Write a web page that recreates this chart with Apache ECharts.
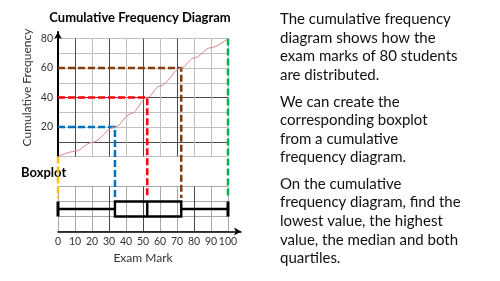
<!DOCTYPE html>
<html><head><meta charset="utf-8">
<script src="https://cdn.jsdelivr.net/npm/echarts@6/dist/echarts.min.js"></script>
<style>html,body{margin:0;padding:0;background:#fff}#c{width:500px;height:281px}</style>
</head><body><div id="c"></div>
<script>
// ---- data ----
const curveMarks    = [0, 10, 20, 33.5, 43, 52.5, 60, 72.5, 80, 90, 100];
const curveCumFreq  = [0, 3.5, 9.5, 20, 29, 40, 47.8, 60, 66.8, 73.8, 80];
const fiveNumberMarks   = [0, 33.5, 52.5, 72.5, 100];   // min, Q1, median, Q3, max
const fiveNumberCumFreq = [0, 20, 40, 60, 80];
const xTickLabels = [0, 10, 20, 30, 40, 50, 60, 70, 80, 90, 100];
const yTickLabels = [20, 40, 60, 80];
const titleText = 'Cumulative Frequency Diagram';
const yAxisTitle = 'Cumulative Frequency';
const xAxisTitle = 'Exam Mark';
const boxplotLabel = 'Boxplot';
const paragraphs = [
  ['The cumulative frequency', 'diagram shows how the', 'exam marks of 80 students', 'are distributed.'],
  ['We can create the', 'corresponding boxplot', 'from a cumulative', 'frequency diagram.'],
  ['On the cumulative', 'frequency diagram, find the', 'lowest value, the highest', 'value, the median and both', 'quartiles.']
];

// ---- styles / layout ----
const FONT = 'Lato';
const DARK = '#4a4a4a', LIGHT = '#c0c0c0', MID = '#a8a8a8';
const GUIDE_COLORS = ['#FFC000', '#0070C0', '#FF0000', '#843C0C', '#00B050'];
const GUIDE_DROP = 41.5;
const paraTops = [10, 92.4, 174.7];
const LINE_H = 18.6;

const chart = echarts.init(document.getElementById('c'), null, {renderer: 'canvas'});

const graphics = [
  {type: 'text', x: 140, y: 17.5, style: {text: titleText, fontFamily: FONT, fontSize: 13, fontWeight: 'bold', fill: '#000', align: 'center', verticalAlign: 'middle'}},
  {type: 'text', x: 26.7, y: 87.5, rotation: Math.PI / 2, style: {text: yAxisTitle, fontFamily: FONT, fontSize: 12, fill: '#333', align: 'center', verticalAlign: 'middle'}},
  {type: 'text', x: 21, y: 173.3, style: {text: boxplotLabel, fontFamily: FONT, fontSize: 13, fontWeight: 'bold', fill: '#000', align: 'left', verticalAlign: 'middle'}}
];
paragraphs.forEach((lines, p) => {
  lines.forEach((ln, i) => {
    graphics.push({type: 'text', x: 280, y: paraTops[p] + 9.3 + i * LINE_H,
      style: {text: ln, fontFamily: FONT, fontSize: 15, fill: '#111', align: 'left', verticalAlign: 'middle'}});
  });
});

const option = {
  animation: false,
  backgroundColor: '#fff',
  textStyle: {fontFamily: FONT},
  grid: [
    {left: 58, top: 38.5, width: 170, height: 118},
    {left: 58, top: 186.5, width: 170, height: 45},
    {left: 58, top: 186.5, width: 183, height: 45},
    {left: 58, top: 32, width: 170, height: 124.5}
  ],
  xAxis: [
    {gridIndex: 0, type: 'value', min: 0, max: 100, interval: 10,
      axisLine: {show: false}, axisTick: {show: false}, axisLabel: {show: false},
      splitLine: {show: true, lineStyle: {width: 1, color: [LIGHT, DARK, LIGHT, DARK, LIGHT, DARK, LIGHT, DARK, LIGHT, LIGHT, LIGHT]}}},
    {gridIndex: 1, type: 'value', min: 0, max: 100, interval: 10,
      axisLine: {show: false}, axisTick: {show: false},
      axisLabel: {show: true, margin: 5, fontSize: 10.5, color: '#333', fontFamily: FONT,
        formatter: v => xTickLabels.includes(v) ? String(v) : ''},
      splitLine: {show: true, lineStyle: {width: 1, color: [MID, MID, MID, DARK, MID, DARK, MID, MID, DARK, MID, MID]}},
      name: xAxisTitle, nameLocation: 'middle', nameGap: 21,
      nameTextStyle: {fontSize: 12, color: '#333', fontFamily: FONT}},
    {gridIndex: 2, type: 'value', min: 0, max: 1,
      axisLine: {show: true, symbol: ['none', 'arrow'], symbolSize: [6, 7], symbolOffset: [0, 0], lineStyle: {color: '#000', width: 1.5}},
      axisTick: {show: false}, axisLabel: {show: false}, splitLine: {show: false}},
    {gridIndex: 3, type: 'value', show: false, min: 0, max: 1}
  ],
  yAxis: [
    {gridIndex: 0, type: 'value', min: 0, max: 80, interval: 10,
      axisLine: {show: false}, axisTick: {show: false},
      axisLabel: {show: true, margin: 5, fontSize: 10.5, color: '#333', fontFamily: FONT,
        formatter: v => yTickLabels.includes(v) ? String(v) : ''},
      splitLine: {show: true, lineStyle: {width: 1, color: [LIGHT, DARK, LIGHT, LIGHT, DARK, LIGHT, LIGHT, LIGHT, LIGHT]}}},
    {gridIndex: 1, type: 'value', min: 0, max: 3, interval: 1,
      axisLine: {show: false}, axisTick: {show: false}, axisLabel: {show: false},
      splitLine: {show: true, lineStyle: {width: 1, color: MID}}},
    {gridIndex: 2, type: 'value', show: false, min: 0, max: 1},
    {gridIndex: 3, type: 'value', min: 0, max: 1,
      axisLine: {show: true, symbol: ['none', 'arrow'], symbolSize: [6, 7], lineStyle: {color: '#000', width: 2}},
      axisTick: {show: false}, axisLabel: {show: false}, splitLine: {show: false}}
  ],
  series: [
    {
      type: 'custom', xAxisIndex: 0, yAxisIndex: 0, clip: false, z: 3,
      data: fiveNumberMarks.map((m, i) => [m, fiveNumberCumFreq[i], i]),
      renderItem: (params, api) => {
        const idx = api.value(2);
        const p = api.coord([api.value(0), api.value(1)]);
        const origin = api.coord([0, api.value(1)]);
        const base = api.coord([api.value(0), 0]);
        const bottom = base[1] + GUIDE_DROP;
        const pts = (idx === 0 || idx === fiveNumberMarks.length - 1)
          ? [p, [p[0], bottom]]
          : [origin, p, [p[0], bottom]];
        return {type: 'polyline', shape: {points: pts},
          style: {stroke: GUIDE_COLORS[idx], lineWidth: 2.5, lineDash: [7, 3], fill: null}};
      }
    },
    {
      type: 'line', xAxisIndex: 0, yAxisIndex: 0, z: 4,
      data: curveMarks.map((m, i) => [m, curveCumFreq[i]]),
      smooth: 0.35, smoothMonotone: 'x', symbol: 'none',
      lineStyle: {color: '#d98585', width: 1}
    },
    {
      type: 'custom', xAxisIndex: 1, yAxisIndex: 1, clip: false, z: 5,
      data: [fiveNumberMarks],
      renderItem: (params, api) => {
        const v = [0, 1, 2, 3, 4].map(i => api.value(i));
        const x = v.map(val => api.coord([val, 0])[0]);
        const yTop = api.coord([0, 2])[1], yBot = api.coord([0, 1])[1], yMid = api.coord([0, 1.5])[1];
        const s = {stroke: '#000', lineWidth: 2.4, fill: null};
        const cap = {stroke: '#000', lineWidth: 3, fill: null};
        return {type: 'group', children: [
          {type: 'line', shape: {x1: x[0], y1: yMid, x2: x[1], y2: yMid}, style: s},
          {type: 'line', shape: {x1: x[3], y1: yMid, x2: x[4], y2: yMid}, style: s},
          {type: 'line', shape: {x1: x[0], y1: yTop, x2: x[0], y2: yBot}, style: cap},
          {type: 'line', shape: {x1: x[4], y1: yTop, x2: x[4], y2: yBot}, style: cap},
          {type: 'rect', shape: {x: x[1], y: yTop, width: x[3] - x[1], height: yBot - yTop}, style: {stroke: '#000', lineWidth: 2.4, fill: 'rgba(0,0,0,0)'}},
          {type: 'line', shape: {x1: x[2], y1: yTop, x2: x[2], y2: yBot}, style: s}
        ]};
      }
    }
  ],
  graphic: graphics
};
chart.setOption(option);
</script></body></html>
